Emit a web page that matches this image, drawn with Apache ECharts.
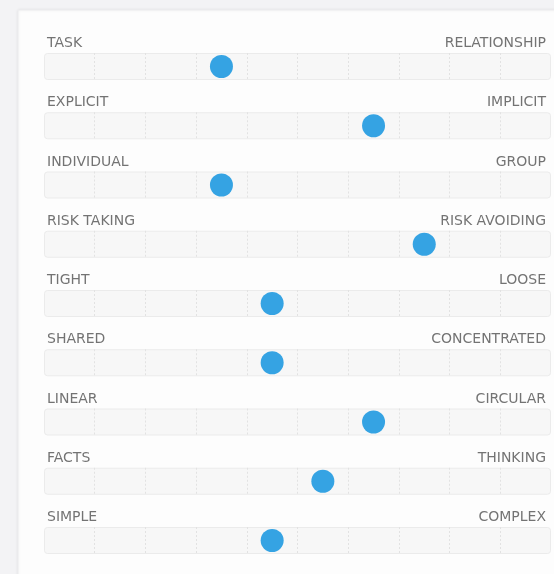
<!DOCTYPE html>
<html>
<head>
<meta charset="utf-8">
<script src="https://cdn.jsdelivr.net/npm/echarts@6/dist/echarts.min.js"></script>
<style>
  html, body { margin: 0; padding: 0; background: #f3f3f5; }
  #main { width: 554px; height: 574px; }
</style>
</head>
<body>
<div id="main"></div>
<script>
// left / right labels of each scale and where the dot sits (0..10)
var leftLabels = ['TASK', 'EXPLICIT', 'INDIVIDUAL', 'RISK TAKING', 'TIGHT', 'SHARED', 'LINEAR', 'FACTS', 'SIMPLE'];
var rightLabels = ['RELATIONSHIP', 'IMPLICIT', 'GROUP', 'RISK AVOIDING', 'LOOSE', 'CONCENTRATED', 'CIRCULAR', 'THINKING', 'COMPLEX'];
var scores = [3.5, 6.5, 3.5, 7.5, 4.5, 4.5, 6.5, 5.5, 4.5];
var scaleMin = 0;
var scaleMax = 10;

function show() {
    var chartDom = document.getElementById('main');
    var myChart = echarts.init(chartDom);

    var grids = [], xAxes = [], yAxes = [], series = [];
    var rowTop = 53, rowStep = 59.25, trackH = 27;

    for (var i = 0; i < scores.length; i++) {
        grids.push({ left: 44, right: 3, top: rowTop + i * rowStep, height: trackH });
        xAxes.push({
            gridIndex: i, type: 'value', min: scaleMin, max: scaleMax, interval: 1, z: 3,
            axisLine: { show: false }, axisTick: { show: false }, axisLabel: { show: false },
            splitLine: { show: true, showMinLine: false, showMaxLine: false,
                lineStyle: { color: '#e2e2e2', type: [2, 2], width: 1 } }
        });
        yAxes.push({
            gridIndex: i, type: 'category', data: [leftLabels[i]], show: false
        });
        // the track
        series.push({
            type: 'bar', xAxisIndex: i, yAxisIndex: i, silent: true, barWidth: trackH,
            itemStyle: { color: '#f7f7f7', borderColor: '#ebebeb', borderWidth: 1, borderRadius: 3 },
            data: [scaleMax], z: 1
        });
        // the labels over both ends
        series.push({
            type: 'scatter', xAxisIndex: i, yAxisIndex: i, silent: true, symbolSize: 0, z: 4,
            label: {
                show: true, position: 'top', distance: 16,
                color: '#505050', fontSize: 14, fontFamily: 'DejaVu Sans'
            },
            data: [
                { value: [scaleMin, 0], label: { formatter: leftLabels[i], align: 'left', offset: [3, 0] } },
                { value: [scaleMax, 0], label: { formatter: rightLabels[i], align: 'right', offset: [-5, 0] } }
            ]
        });
        // the dot
        series.push({
            type: 'scatter', xAxisIndex: i, yAxisIndex: i, symbolSize: 23, z: 5,
            itemStyle: { color: '#35a3e3', opacity: 1 },
            data: [[scores[i], 0]]
        });
    }

    var option = {
        backgroundColor: 'transparent',
        animation: false,
        graphic: [{
            type: 'rect', z: -10, silent: true,
            shape: { x: 18, y: 10, width: 600, height: 620 },
            style: { fill: '#fdfdfd', stroke: '#ececee', lineWidth: 1,
                shadowBlur: 3, shadowColor: 'rgba(0,0,0,0.08)' }
        }],
        grid: grids,
        xAxis: xAxes,
        yAxis: yAxes,
        series: series
    };

    myChart.setOption(option);
}
show();
</script>
</body>
</html>
